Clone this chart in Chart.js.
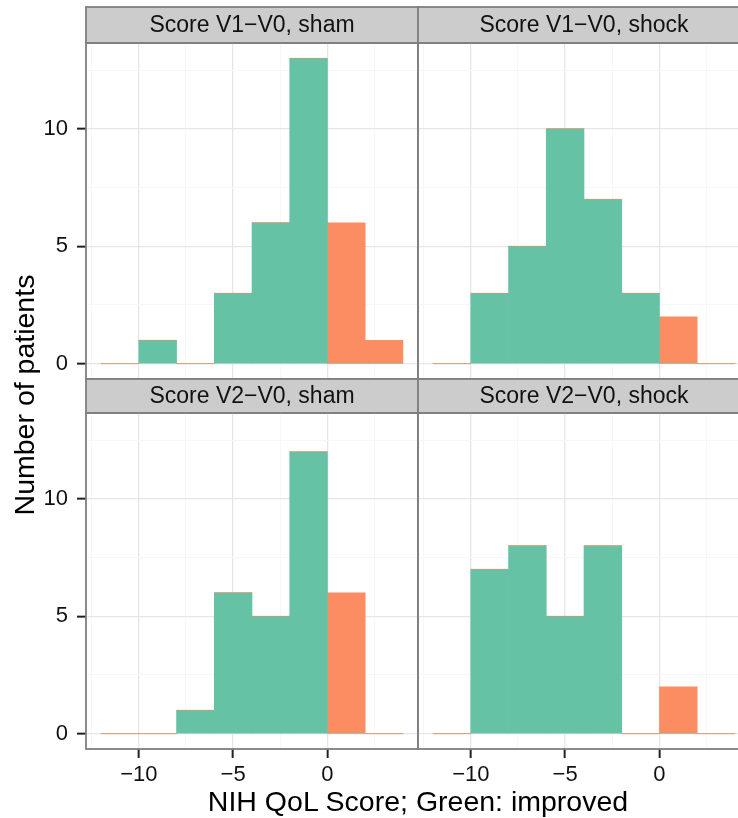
<!DOCTYPE html>
<html>
<head>
<meta charset="utf-8">
<title>NIH QoL score changes</title>
<script src="https://cdn.jsdelivr.net/npm/chart.js@4.4.1/dist/chart.umd.min.js"></script>
<style>
  html, body { margin: 0; padding: 0; background: #ffffff; overflow: hidden; }
  #wrap { position: relative; width: 738px; height: 818px; overflow: hidden; background: #ffffff; }
  #wrap canvas { position: absolute; }
  .axis-title {
    position: absolute;
    font-family: "Liberation Sans", Arial, Helvetica, sans-serif;
    font-size: 28.5px;
    line-height: 28px;
    color: #000000;
    white-space: nowrap;
    text-align: center;
  }
  #xTitle { left: 118px; width: 600px; top: 787px; }
  #yTitle { left: -176px; width: 400px; top: 381px; transform: rotate(-90deg); transform-origin: 50% 50%; }
</style>
</head>
<body>
<div id="wrap">
  <canvas id="panelA"></canvas>
  <canvas id="panelB"></canvas>
  <canvas id="panelC"></canvas>
  <canvas id="panelD"></canvas>
  <div class="axis-title" id="yTitle">Number of patients</div>
  <div class="axis-title" id="xTitle">NIH QoL Score; Green: improved</div>
</div>
<script>
// Histogram bins (width 2) and counts per facet
const BIN_WIDTH = 2;
const BIN_CENTERS = [-11, -9, -7, -5, -3, -1, 1, 3];

const V1_SHAM_IMPROVED  = [0, 1, 0, 3, 6, 13, 0, 0];
const V1_SHAM_WORSE     = [0, 0, 0, 0, 0, 0, 6, 1];
const V1_SHOCK_IMPROVED = [0, 3, 5, 10, 7, 3, 0, 0];
const V1_SHOCK_WORSE    = [0, 0, 0, 0, 0, 0, 2, 0];
const V2_SHAM_IMPROVED  = [0, 0, 1, 6, 5, 12, 0, 0];
const V2_SHAM_WORSE     = [0, 0, 0, 0, 0, 0, 6, 0];
const V2_SHOCK_IMPROVED = [0, 7, 8, 5, 8, 0, 0, 0];
const V2_SHOCK_WORSE    = [0, 0, 0, 0, 0, 0, 2, 0];

const FACET_TITLES = [
  'Score V1\u2212V0, sham',
  'Score V1\u2212V0, shock',
  'Score V2\u2212V0, sham',
  'Score V2\u2212V0, shock'
];

// Axis ranges and breaks
const X_RANGE = [-12.8, 4.8];
const Y_RANGE = [-0.65, 13.65];
const X_MAJOR = [-10, -5, 0];
const X_MINOR = [-12.5, -7.5, -2.5, 2.5];
const Y_MAJOR = [0, 5, 10];
const Y_MINOR = [2.5, 7.5, 12.5];

const FONT = '"Liberation Sans", Arial, Helvetica, sans-serif';
const GREEN = '#66c2a5';
const ORANGE = '#fc8d62';
const FRAME = '#7f7f7f';
const GRID_MAJOR = '#e6e6e6';
const GRID_MINOR = '#f7f7f7';

function fmt(v) {
  return v < 0 ? '\u2212' + Math.abs(v) : String(v);
}

// Grey facet strip above each panel
const stripPlugin = {
  id: 'facetStrip',
  beforeDraw(chart, args, opts) {
    const { ctx, chartArea: a } = chart;
    const h = opts.height;
    ctx.save();
    ctx.fillStyle = '#cccccc';
    ctx.fillRect(a.left, a.top - h, a.right - a.left, h);
    ctx.strokeStyle = FRAME;
    ctx.lineWidth = 1.8;
    ctx.strokeRect(a.left, a.top - h, a.right - a.left, h);
    ctx.fillStyle = '#111111';
    ctx.font = '23px ' + FONT;
    ctx.textAlign = 'center';
    ctx.textBaseline = 'middle';
    ctx.fillText(opts.text, (a.left + a.right) / 2, a.top - h / 2 + 0.5);
    ctx.restore();
  }
};

// Thin outline of the empty "worse" group on top of each stack, plus the panel frame
const framePlugin = {
  id: 'panelFrame',
  afterDatasetsDraw(chart) {
    const { ctx, chartArea: a, scales } = chart;
    const xs = scales.x, ys = scales.y;
    const improved = chart.data.datasets[0].data;
    const worse = chart.data.datasets[1].data;
    ctx.save();
    ctx.beginPath();
    ctx.rect(a.left, a.top, a.right - a.left, a.bottom - a.top);
    ctx.clip();
    ctx.strokeStyle = 'rgba(252,141,98,0.55)';
    ctx.lineWidth = 1;
    worse.forEach((p, i) => {
      if (p.y !== 0) return;
      const yy = ys.getPixelForValue(improved[i].y);
      const x0 = xs.getPixelForValue(p.x - BIN_WIDTH / 2);
      const x1 = xs.getPixelForValue(p.x + BIN_WIDTH / 2);
      ctx.beginPath();
      ctx.moveTo(x0, yy);
      ctx.lineTo(x1, yy);
      ctx.stroke();
    });
    ctx.restore();
    ctx.save();
    ctx.strokeStyle = FRAME;
    ctx.lineWidth = 1.8;
    ctx.strokeRect(a.left, a.top, a.right - a.left, a.bottom - a.top);
    ctx.restore();
  }
};

function series(values) {
  return BIN_CENTERS.map((c, i) => ({ x: c, y: values[i] }));
}

function buildPanel(id, spec) {
  const cv = document.getElementById(id);
  cv.width = spec.w;
  cv.height = spec.h;
  cv.style.left = spec.left + 'px';
  cv.style.top = spec.top + 'px';

  const xGrid = X_MAJOR.concat(X_MINOR).sort((a, b) => a - b);
  const yGrid = Y_MAJOR.concat(Y_MINOR).sort((a, b) => a - b);

  new Chart(cv, {
    type: 'bar',
    data: {
      datasets: [
        { label: 'improved', data: series(spec.improved), backgroundColor: GREEN,
          borderWidth: 0, barPercentage: 1, categoryPercentage: 1 },
        { label: 'worse', data: series(spec.worse), backgroundColor: ORANGE,
          borderWidth: 0, barPercentage: 1, categoryPercentage: 1 }
      ]
    },
    options: {
      responsive: false,
      animation: false,
      devicePixelRatio: 1,
      layout: { padding: spec.padding },
      plugins: {
        legend: { display: false },
        tooltip: { enabled: false },
        facetStrip: { text: spec.title, height: spec.stripH }
      },
      scales: {
        x: {
          type: 'linear',
          stacked: true,
          min: X_RANGE[0],
          max: X_RANGE[1],
          offset: false,
          border: { display: false },
          afterBuildTicks: s => { s.ticks = xGrid.map(v => ({ value: v })); },
          afterFit: s => {
            s.height = spec.showX ? 62 : 0;
            s.paddingLeft = 0; s.paddingRight = 0;
          },
          grid: {
            offset: false,
            drawTicks: spec.showX,
            tickLength: 9,
            tickWidth: 2,
            color: c => X_MAJOR.includes(c.tick.value) ? GRID_MAJOR : GRID_MINOR,
            lineWidth: c => X_MAJOR.includes(c.tick.value) ? 1.3 : 1,
            tickColor: c => X_MAJOR.includes(c.tick.value) ? '#222222' : 'rgba(0,0,0,0)'
          },
          ticks: {
            display: spec.showX,
            autoSkip: false,
            maxRotation: 0,
            padding: 4,
            color: '#111111',
            font: { family: FONT, size: 22 },
            callback: v => X_MAJOR.includes(v) ? fmt(v) : ''
          }
        },
        y: {
          stacked: true,
          min: Y_RANGE[0],
          max: Y_RANGE[1],
          border: { display: false },
          afterBuildTicks: s => { s.ticks = yGrid.map(v => ({ value: v })); },
          afterFit: s => {
            s.width = spec.showY ? 86 : 0;
            s.paddingTop = 0; s.paddingBottom = 0;
          },
          grid: {
            drawTicks: spec.showY,
            tickLength: 9,
            tickWidth: 2,
            color: c => Y_MAJOR.includes(c.tick.value) ? GRID_MAJOR : GRID_MINOR,
            lineWidth: c => Y_MAJOR.includes(c.tick.value) ? 1.3 : 1,
            tickColor: c => Y_MAJOR.includes(c.tick.value) ? '#222222' : 'rgba(0,0,0,0)'
          },
          ticks: {
            display: spec.showY,
            autoSkip: false,
            padding: 9,
            color: '#111111',
            font: { family: FONT, size: 22 },
            callback: v => Y_MAJOR.includes(v) ? fmt(v) : ''
          }
        }
      }
    },
    plugins: [stripPlugin, framePlugin]
  });
}

// 2 x 2 facet grid
buildPanel('panelA', {
  title: FACET_TITLES[0], improved: V1_SHAM_IMPROVED, worse: V1_SHAM_WORSE,
  left: 0, top: 4, w: 421, h: 378, stripH: 36,
  padding: { left: 0, right: 3, top: 39, bottom: 3 }, showX: false, showY: true
});
buildPanel('panelB', {
  title: FACET_TITLES[1], improved: V1_SHOCK_IMPROVED, worse: V1_SHOCK_WORSE,
  left: 415, top: 4, w: 338, h: 378, stripH: 36,
  padding: { left: 3, right: 3, top: 39, bottom: 3 }, showX: false, showY: false
});
buildPanel('panelC', {
  title: FACET_TITLES[2], improved: V2_SHAM_IMPROVED, worse: V2_SHAM_WORSE,
  left: 0, top: 376, w: 421, h: 435, stripH: 34,
  padding: { left: 0, right: 3, top: 37, bottom: 0 }, showX: true, showY: true
});
buildPanel('panelD', {
  title: FACET_TITLES[3], improved: V2_SHOCK_IMPROVED, worse: V2_SHOCK_WORSE,
  left: 415, top: 376, w: 338, h: 435, stripH: 34,
  padding: { left: 3, right: 3, top: 37, bottom: 0 }, showX: true, showY: false
});
</script>
</body>
</html>
